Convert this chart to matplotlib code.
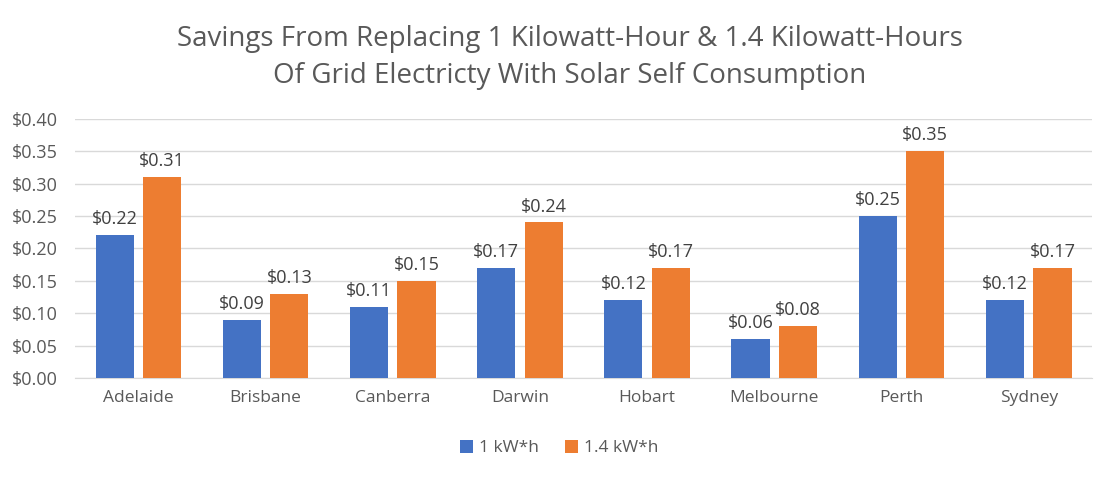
import matplotlib.pyplot as plt
import numpy as np

# data
cities = ["Adelaide", "Brisbane", "Canberra", "Darwin", "Hobart", "Melbourne", "Perth", "Sydney"]
one_kwh = [0.22, 0.09, 0.11, 0.17, 0.12, 0.06, 0.25, 0.12]
one_four_kwh = [0.31, 0.13, 0.15, 0.24, 0.17, 0.08, 0.35, 0.17]

plt.rcParams["font.family"] = ["Open Sans", "DejaVu Sans"]
text_color = "#595959"

fig = plt.figure(figsize=(11, 4.8), dpi=100)
ax = fig.add_axes([0.068, 0.2125, 0.925, 0.54])

x = np.arange(len(cities))
w = 0.30
off = 0.187
bars1 = ax.bar(x - off, one_kwh, w, color="#4472C4", label="1 kW*h", zorder=3)
bars2 = ax.bar(x + off, one_four_kwh, w, color="#ED7D31", label="1.4 kW*h", zorder=3)

# value labels above bars
for bars in (bars1, bars2):
    for b in bars:
        ax.annotate(f"${b.get_height():.2f}", (b.get_x() + b.get_width() / 2, b.get_height()),
                    xytext=(0, 5), textcoords="offset points", ha="center", va="bottom",
                    fontsize=13, color="#404040")

ax.set_xlim(-0.5, len(cities) - 0.5)
ax.set_ylim(0, 0.40)
ax.set_yticks(np.arange(0, 0.41, 0.05))
ax.set_yticklabels([f"${v:.2f}" for v in np.arange(0, 0.41, 0.05)])
ax.set_xticks(x)
ax.set_xticklabels(cities)
ax.tick_params(axis="both", length=0, labelsize=12.5, colors=text_color)
ax.tick_params(axis="y", labelsize=13, pad=12)
ax.tick_params(axis="x", pad=9)

ax.grid(axis="y", color="#D9D9D9", linewidth=1, zorder=0)
for s in ["top", "right", "left"]:
    ax.spines[s].set_visible(False)
ax.spines["bottom"].set_color("#D9D9D9")

fig.text(0.518, 0.948, "Savings From Replacing 1 Kilowatt-Hour & 1.4 Kilowatt-Hours\nOf Grid Electricty With Solar Self Consumption",
         ha="center", va="top", fontsize=20, color=text_color, linespacing=1.42)

fig.legend(loc="center", bbox_to_anchor=(0.508, 0.067), ncol=2, frameon=False,
           fontsize=12.5, handlelength=0.8, handleheight=0.8, handletextpad=0.3,
           columnspacing=1.5, labelcolor=text_color)

fig.savefig("out.png", dpi=100)
